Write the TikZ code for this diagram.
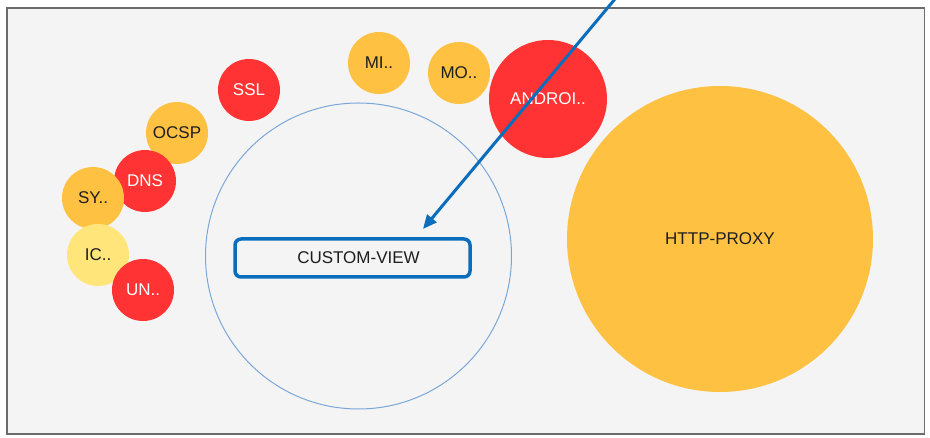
\documentclass[tikz,border=0pt]{standalone}
\usepackage{fontspec}
\setmainfont{Liberation Sans}
\usetikzlibrary{arrows.meta}
\definecolor{framegray}{HTML}{6B6B6B}
\definecolor{panel}{HTML}{F4F4F4}
\definecolor{bubred}{HTML}{FF3333}
\definecolor{bubamber}{HTML}{FFC142}
\definecolor{bublight}{HTML}{FFE57A}
\definecolor{ringblue}{HTML}{7BA7D9}
\definecolor{selblue}{HTML}{0A6EBD}
\definecolor{inktext}{HTML}{1E1E1E}
\tikzset{
  bubble/.style={circle, draw=none, minimum size=#1, inner sep=0pt,
    font=\fontsize{17}{19}\selectfont},
  hot/.style={fill=bubred, text=white},
  warm/.style={fill=bubamber, text=inktext},
  mild/.style={fill=bublight, text=inktext},
  selbox/.style={draw=selblue, line width=3.5pt, rounded corners=6pt,
    minimum width=235pt, minimum height=38pt, inner sep=0pt,
    text=inktext, font=\fontsize{17}{19}\selectfont},
  pointer/.style={draw=selblue, line width=3pt,
    -{Triangle[length=14pt,width=12pt]}}
}
\begin{document}
\begin{tikzpicture}[x=1pt, y=-1pt]
  \useasboundingbox (0,0) rectangle (930,438);
  % panel
  \fill[white] (0,0) rectangle (930,438);
  \draw[framegray, fill=panel, line width=1.5pt] (7,8) rectangle (924.5,434);

  % container ring
  \node[circle, draw=ringblue, line width=1pt, minimum size=306pt, inner sep=0pt]
    (ring) at (358.5,256) {};

  % small bubbles (drawn back to front)
  \node[bubble=62pt, hot]  (ssl)  at (249,90)  {SSL};
  \node[bubble=62pt, warm] (ocsp) at (177,133) {OCSP};
  \node[bubble=62pt, hot]  (dns)  at (145,181) {DNS};
  \node[bubble=62pt, warm] (sy)   at (93,198)  {SY..};
  \node[bubble=62pt, mild] (ic)   at (98,255)  {IC..};
  \node[bubble=62pt, hot]  (un)   at (143,290) {UN..};
  \node[bubble=62pt, warm] (mi)   at (379,63)  {MI..};
  \node[bubble=62pt, warm] (mo)   at (459,73)  {MO..};
  \node[bubble=118pt, hot] (andr) at (548,99)  {ANDROI..};
  \node[bubble=306pt, warm] (http) at (720,239) {HTTP-PROXY};

  % selected view
  \node[selbox] (cv) at (352.5,258) {\hspace*{12pt}CUSTOM-VIEW};

  % pointer
  \coordinate (src) at (615,-1);
  \coordinate (tip) at (423,229);
  \draw[pointer] (src) -- (tip);
\end{tikzpicture}
\end{document}
